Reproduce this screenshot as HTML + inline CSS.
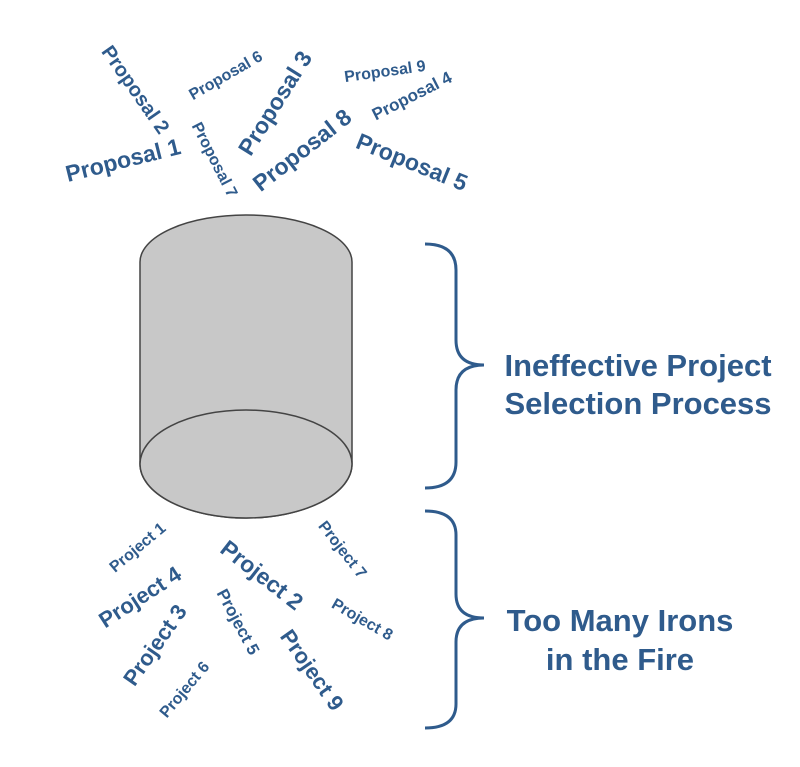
<!DOCTYPE html>
<html><head><meta charset="utf-8"><style>html,body{margin:0;padding:0;background:#fff}</style></head>
<body>
<svg width="800" height="762" viewBox="0 0 800 762" xmlns="http://www.w3.org/2000/svg" font-family="Liberation Sans, sans-serif" font-weight="bold" fill="#2f5b8c">
<g text-anchor="middle" dominant-baseline="central">
<text font-size="20" transform="translate(135,90) rotate(55)">Proposal 2</text>
<text font-size="16" transform="translate(226,76) rotate(-30)">Proposal 6</text>
<text font-size="23" transform="translate(275,103) rotate(-58)">Proposal 3</text>
<text font-size="16" transform="translate(385,72) rotate(-8)">Proposal 9</text>
<text font-size="17" transform="translate(412,96) rotate(-27)">Proposal 4</text>
<text font-size="23" transform="translate(302,150) rotate(-38)">Proposal 8</text>
<text font-size="23" transform="translate(412,162) rotate(22)">Proposal 5</text>
<text font-size="23" transform="translate(123,160) rotate(-14)">Proposal 1</text>
<text font-size="16" transform="translate(214,160) rotate(63)">Proposal 7</text>

<text font-size="16" transform="translate(138,548) rotate(-40)">Project 1</text>
<text font-size="22" transform="translate(140,597) rotate(-33)">Project 4</text>
<text font-size="22" transform="translate(155,645) rotate(-55)">Project 3</text>
<text font-size="16" transform="translate(185,690) rotate(-50)">Project 6</text>
<text font-size="17" transform="translate(238,622) rotate(62)">Project 5</text>
<text font-size="23" transform="translate(262,575) rotate(38)">Project 2</text>
<text font-size="22" transform="translate(312,670) rotate(55)">Project 9</text>
<text font-size="16" transform="translate(342,550) rotate(52)">Project 7</text>
<text font-size="16" transform="translate(362,620) rotate(30)">Project 8</text>
</g>
<g stroke="#444" stroke-width="1.5" fill="#c8c8c8">
<path d="M140,262 A106,47 0 0 1 352,262 L352,464 A106,54 0 0 1 140,464 Z"/>
<ellipse cx="246" cy="464" rx="106" ry="54"/>
</g>
<g fill="none" stroke="#2f5b8c" stroke-width="3">
<path d="M425,244 Q456,244 456,270 L456,340 Q456,365 484,365 Q456,365 456,390 L456,462 Q456,488 425,488"/>
<path d="M425,511 Q456,511 456,535 L456,594 Q456,618 484,618 Q456,618 456,642 L456,704 Q456,728 425,728"/>
</g>
<g font-size="31" text-anchor="middle">
<text x="638" y="376">Ineffective Project</text>
<text x="638" y="414">Selection Process</text>
<text x="620" y="631">Too Many Irons</text>
<text x="620" y="670">in the Fire</text>
</g>
</svg>
</body></html>
